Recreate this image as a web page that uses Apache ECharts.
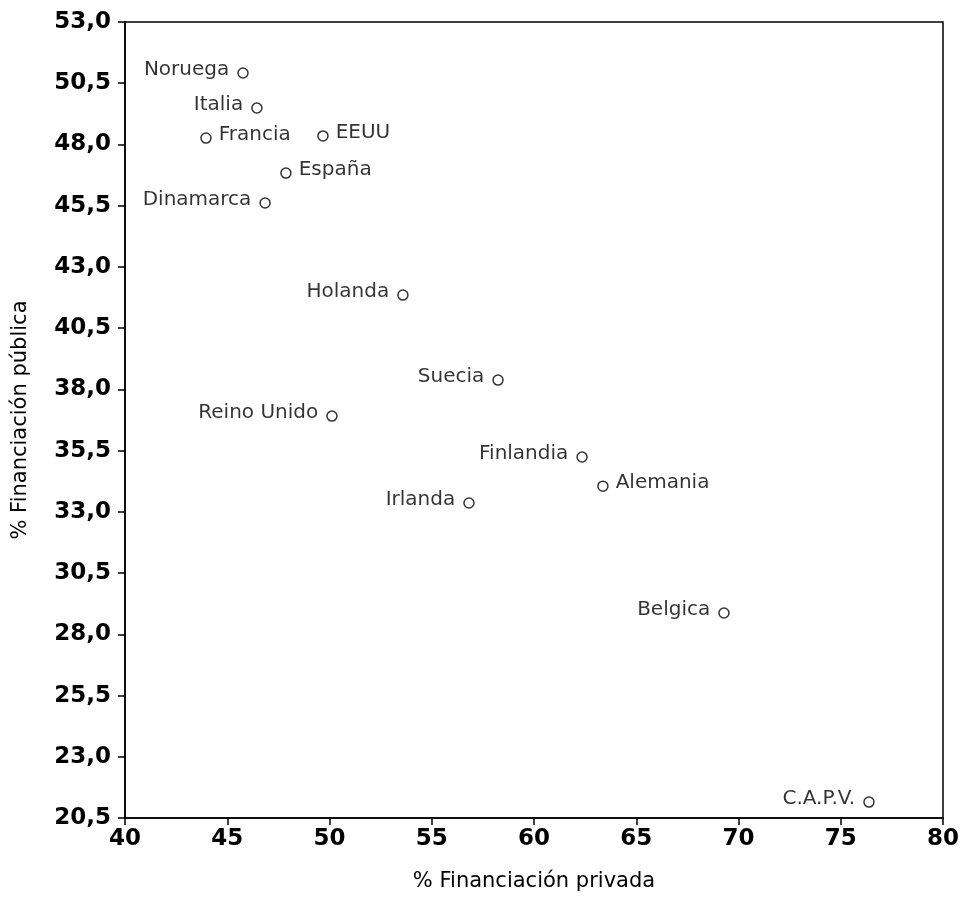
<!DOCTYPE html>
<html>
<head>
<meta charset="utf-8">
<script src="https://cdn.jsdelivr.net/npm/echarts@6/dist/echarts.min.js"></script>
<style>
html,body{margin:0;padding:0;background:#fff;}
#chart{width:966px;height:902px;}
</style>
</head>
<body>
<div id="chart"></div>
<script>
// Data
const countries = ['Noruega','Italia','Francia','EEUU','España','Dinamarca','Holanda','Suecia','Reino Unido','Finlandia','Alemania','Irlanda','Belgica','C.A.P.V.'];
const privada   = [45.77, 46.45, 43.96, 49.68, 47.87, 46.85, 53.59, 58.24, 50.12, 62.35, 63.37, 56.82, 69.29, 76.38];
const publica   = [50.92, 49.49, 48.26, 48.35, 46.83, 45.61, 41.85, 38.38, 36.91, 35.24, 34.05, 33.36, 28.87, 21.15];
const labelSide = ['left','left','right','right','right','left','left','left','left','left','right','left','left','left'];
const xTicks = [40, 45, 50, 55, 60, 65, 70, 75, 80];
const yTicks = [20.5, 23.0, 25.5, 28.0, 30.5, 33.0, 35.5, 38.0, 40.5, 43.0, 45.5, 48.0, 50.5, 53.0];

const FONT = '"DejaVu Sans", "Liberation Sans", Arial, sans-serif';
const chart = echarts.init(document.getElementById('chart'), null, {renderer: 'canvas'});

const data = countries.map((c, i) => ({
  value: [privada[i], publica[i]],
  name: c,
  label: {position: labelSide[i], distance: labelSide[i] === 'left' ? 8 : 7}
}));

chart.setOption({
  animation: false,
  backgroundColor: '#fff',
  grid: {left: 125, right: 23, top: 22, bottom: 84, outerBoundsMode: 'none', containLabel: false,
    show: true, borderColor: '#000', borderWidth: 1.5, backgroundColor: 'transparent'},
  xAxis: {
    type: 'value',
    min: 40, max: 80,
    name: '% Financiación privada',
    nameLocation: 'middle',
    nameGap: 53,
    nameTextStyle: {fontFamily: FONT, fontSize: 21, color: '#000'},
    axisLine: {show: true, onZero: false, lineStyle: {color: '#000', width: 1.5}},
    axisTick: {show: true, inside: false, length: 7, customValues: xTicks, lineStyle: {color: '#000', width: 1.5}},
    axisLabel: {customValues: xTicks, fontFamily: FONT, fontSize: 23, fontWeight: 'bold', color: '#000', margin: 10},
    splitLine: {show: false}
  },
  yAxis: {
    type: 'value',
    min: 20.5, max: 53,
    name: '% Financiación pública',
    nameLocation: 'middle',
    nameGap: 94,
    nameRotate: 90,
    nameTextStyle: {fontFamily: FONT, fontSize: 21, color: '#000'},
    axisLine: {show: true, onZero: false, lineStyle: {color: '#000', width: 1.5}},
    axisTick: {show: true, inside: false, length: 7, customValues: yTicks, lineStyle: {color: '#000', width: 1.5}},
    axisLabel: {customValues: yTicks, fontFamily: FONT, fontSize: 23, fontWeight: 'bold', color: '#000', margin: 14,
      formatter: v => v.toFixed(1).replace('.', ',')},
    splitLine: {show: false}
  },
  series: [{
    type: 'scatter',
    data: data,
    symbol: 'circle',
    symbolSize: 10,
    itemStyle: {color: '#fff', borderColor: '#000', borderWidth: 1.5},
    label: {
      show: true,
      formatter: p => p.name,
      fontFamily: FONT,
      fontSize: 20,
      color: '#000',
      offset: [0, -3]
    }
  }]
});
</script>
</body>
</html>
